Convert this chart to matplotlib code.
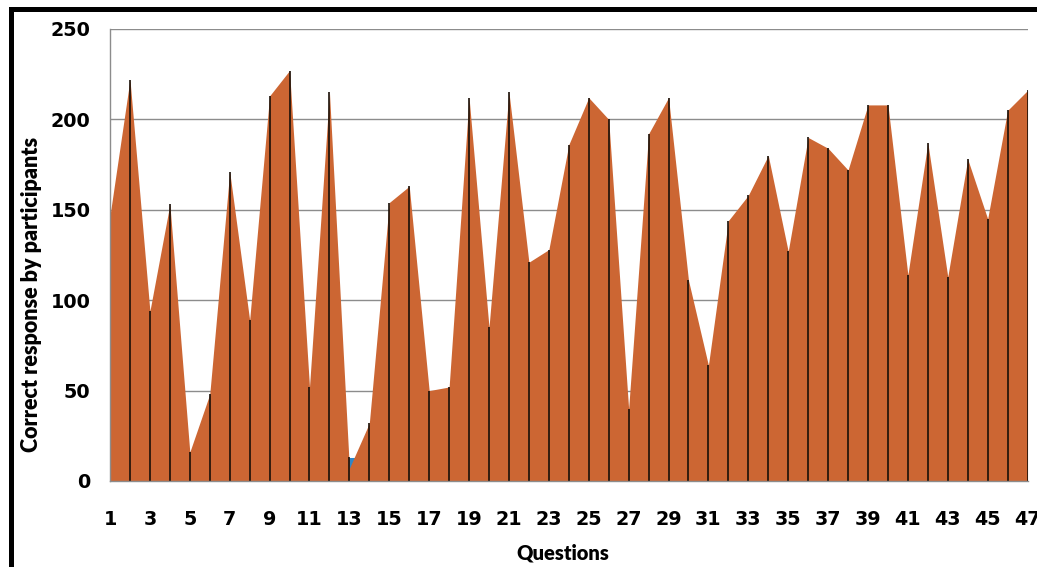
import numpy as np
import matplotlib
matplotlib.use('Agg')
import matplotlib.pyplot as plt
from matplotlib.lines import Line2D

# correct responses per question
questions = list(range(1, 48))
correct = [147, 222, 94, 153, 16, 48, 171, 89, 213, 227,
           52, 215, 7, 32, 154, 163, 50, 52, 212, 85,
           215, 121, 128, 186, 212, 200, 40, 192, 212, 111,
           64, 144, 158, 180, 127, 190, 184, 172, 208, 208,
           114, 187, 113, 178, 145, 205, 216]

# second series, hidden behind the first except around question 13
blue_q = [12, 13, 14]
blue_v = [10, 13, 13]

orange = '#CC6633'
blue = '#2E86C8'

fig = plt.figure(figsize=(10.37, 5.67), dpi=100)
ax = fig.add_axes([0.1061, 0.1517, 0.8848, 0.7972])

ax.fill_between(blue_q, blue_v, 0, color=blue, linewidth=0, zorder=2)
ax.fill_between(questions, correct, 0, color=orange, linewidth=0, zorder=3)

# drop lines
tops = [max(c, dict(zip(blue_q, blue_v)).get(q, 0)) for q, c in zip(questions, correct)]
ax.vlines(questions, 0, tops, color='#1a1008', linewidth=1.2, zorder=4)

ax.set_xlim(1, 47)
ax.set_ylim(0, 250)
ax.set_yticks(range(0, 251, 50))
ax.set_xticks(range(1, 48, 2))
ax.grid(axis='y', color='#8c8c8c', linewidth=1.0, zorder=1)
ax.set_axisbelow(True)

for s in ['top', 'right']:
    ax.spines[s].set_visible(False)
for s in ['left', 'bottom']:
    ax.spines[s].set_color('#8c8c8c')
    ax.spines[s].set_linewidth(1.0)
    ax.spines[s].set_zorder(5)

ax.tick_params(length=0, labelsize=13.8, pad=21)
ax.tick_params(axis='y', pad=14)
for lab in ax.get_xticklabels() + ax.get_yticklabels():
    lab.set_fontweight('bold')
    lab.set_fontfamily('DejaVu Sans')

ax.set_xlabel('Questions', fontsize=14.5, fontweight='heavy', family='Lato')
ax.set_ylabel('Correct response by participants', fontsize=15.5, fontweight='heavy',
              family='Lato')
ax.xaxis.set_label_coords(0.494, -0.139)
ax.yaxis.set_label_coords(-0.074, 0.413)

# outer frame (left and top edges visible)
fig.add_artist(Line2D([0.0102, 0.0102], [0, 0.985], color='black', linewidth=3.6,
                      transform=fig.transFigure, solid_capstyle='projecting'))
fig.add_artist(Line2D([0.0102, 1.0], [0.985, 0.985], color='black', linewidth=3.6,
                      transform=fig.transFigure, solid_capstyle='projecting'))

fig.savefig('out.png', dpi=100)
